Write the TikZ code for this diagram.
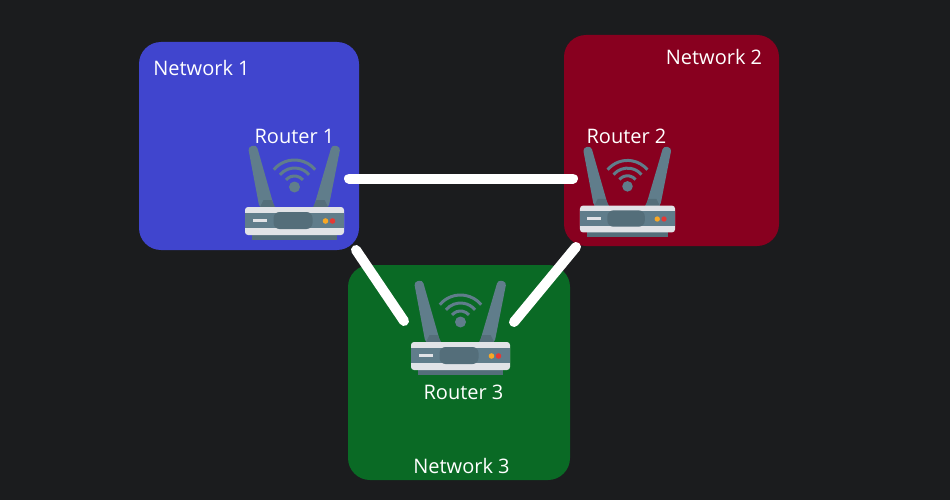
\documentclass[tikz,border=0pt]{standalone}
\usepackage{fontspec}
\setmainfont{Open Sans}
\definecolor{bgdark}{HTML}{1B1C1E}
\definecolor{netblue}{HTML}{4045CE}
\definecolor{netred}{HTML}{88001F}
\definecolor{netgreen}{HTML}{0A6A25}
\definecolor{slate}{HTML}{607D8B}
\definecolor{slatedark}{HTML}{546E7A}
\definecolor{bodylight}{HTML}{E1E3E7}
\definecolor{ledorange}{HTML}{F9A825}
\definecolor{ledred}{HTML}{E53935}
\tikzset{
    net/.style = {rectangle, rounded corners=22pt, inner sep=0pt},
    label/.style = {text=white, font=\fontsize{20}{24}\selectfont, inner sep=0pt},
    link/.style = {white, line width=10pt, line cap=round},
    router/.pic = {
        % antennas
        \fill[slate, rounded corners=3.5pt] (-46.5,-74) -- (-38,-76) -- (-20,-13) -- (-35,-13) -- cycle;
        \fill[slate, rounded corners=3.5pt] (37.5,-76) -- (46,-74) -- (34,-13) -- (19,-13) -- cycle;
        \fill[slatedark] (-35,-13) -- (-31,-21) -- (-23,-21) -- (-19,-13) -- cycle;
        \fill[slatedark] (18,-13) -- (22,-21) -- (30,-21) -- (34,-13) -- cycle;
        % wifi
        \fill[slate] (0,-34) circle (5.5pt);
        \foreach \r in {11,19,27}
            \draw[slate, line width=3pt] (0,-34) ++(140:\r pt) arc[start angle=140, end angle=40, radius=\r pt];
        % body
        \fill[slatedark] (-42.5,13) rectangle (42.5,19);
        \fill[bodylight, rounded corners=3pt] (-49.5,-14) rectangle (49.5,14);
        \fill[slate] (-49.5,-8) rectangle (49.5,7);
        \fill[slatedark, rounded corners=6pt] (-21,-9) rectangle (18,8);
        \fill[bodylight] (-42,-2) rectangle (-28,1);
        \fill[ledorange] (31,0) circle (2.8pt);
        \fill[ledred] (38,0) circle (2.8pt);
    }
}
\begin{document}
\begin{tikzpicture}[x=1pt, y=-1pt]
    \fill[bgdark] (0,0) rectangle (950,500);
    \useasboundingbox (0,0) rectangle (950,500);
    \node[net, fill=netblue, minimum width=220pt, minimum height=208pt] (net1) at (249,146) {};
    \node[net, fill=netred, minimum width=215pt, minimum height=211pt] (net2) at (671.5,140.5) {};
    \node[net, fill=netgreen, minimum width=222pt, minimum height=215pt] (net3) at (459,372.5) {};
    \pic (router1) at (294.5,221) {router};
    \pic[scale=.96] (router2) at (627.5,219) {router};
    \pic (router3) at (460.5,356) {router};
    \coordinate (link12a) at (349,178.5);
    \coordinate (link12b) at (573,178.5);
    \coordinate (link13a) at (356,250);
    \coordinate (link13b) at (404,321);
    \coordinate (link23a) at (576,247);
    \coordinate (link23b) at (514,322);
    \draw[link] (link12a) -- (link12b);
    \draw[link] (link13a) -- (link13b);
    \draw[link] (link23a) -- (link23b);
    \node[label] (netlabel1) at (201.5,68) {Network 1};
    \node[label] (netlabel2) at (714,57) {Network 2};
    \node[label] (netlabel3) at (461.5,466) {Network 3};
    \node[label] (routerlabel1) at (294.5,136) {Router 1};
    \node[label] (routerlabel2) at (626.5,136) {Router 2};
    \node[label] (routerlabel3) at (463.5,392) {Router 3};
\end{tikzpicture}
\end{document}
